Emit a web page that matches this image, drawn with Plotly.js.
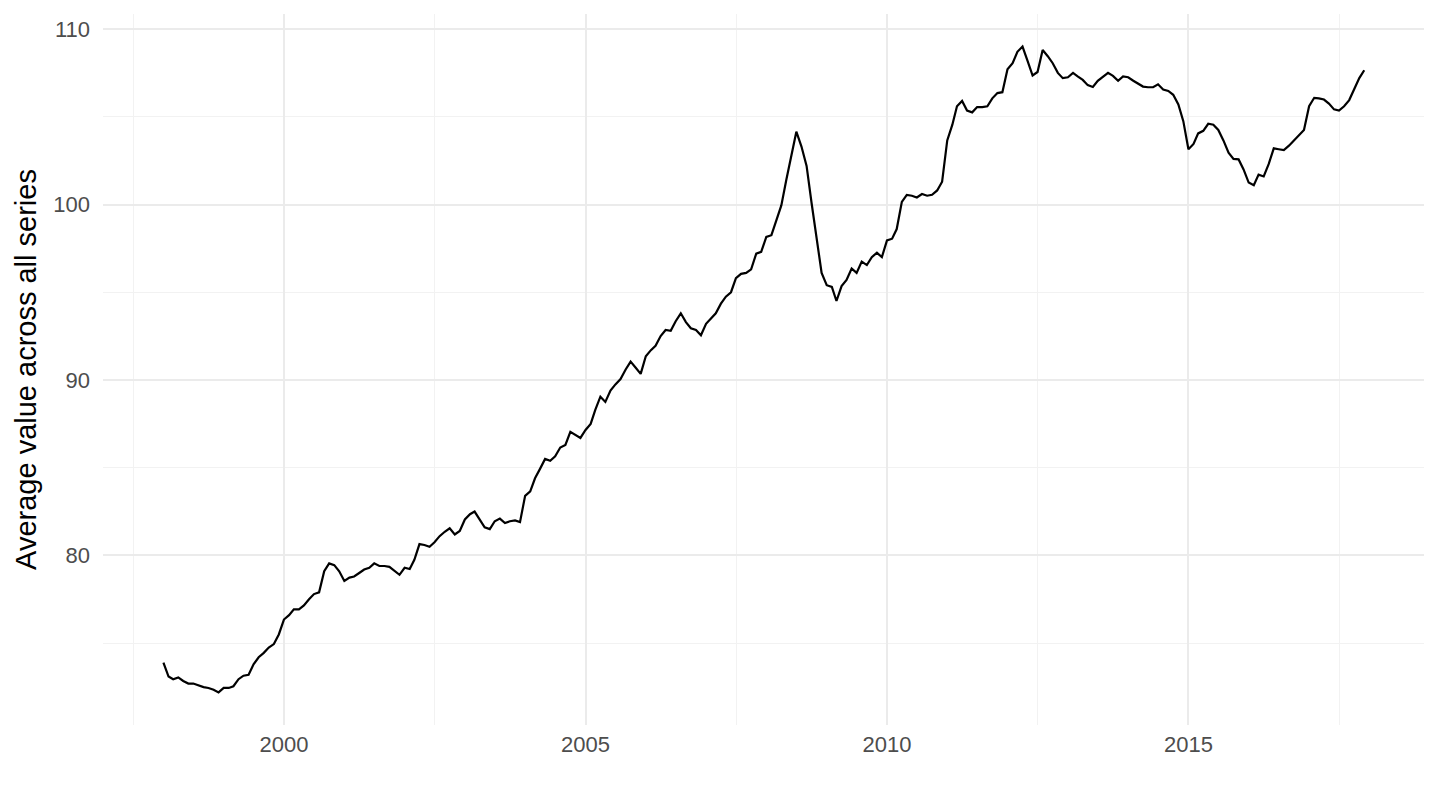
<!DOCTYPE html>
<html>
<head>
<meta charset="utf-8">
<script src="https://cdn.plot.ly/plotly-3.0.1.min.js"></script>
<style>
  html, body { margin: 0; padding: 0; background: #ffffff; }
  #chart { width: 1440px; height: 810px; }
</style>
</head>
<body>
<div id="chart"></div>
<script>
// Monthly series, 1998-01 .. 2017-12
const startYear = 1998;
const values = [
  // 1998
  73.9, 73.1, 72.95, 73.05, 72.85, 72.7, 72.7, 72.6, 72.5, 72.45, 72.35, 72.2,
  // 1999
  72.45, 72.45, 72.55, 72.95, 73.15, 73.2, 73.8, 74.2, 74.45, 74.75, 74.95, 75.5,
  // 2000
  76.35, 76.6, 76.93, 76.93, 77.15, 77.5, 77.8, 77.9, 79.1, 79.55, 79.45, 79.1,
  // 2001
  78.55, 78.74, 78.8, 79.0, 79.2, 79.3, 79.55, 79.4, 79.4, 79.35, 79.1, 78.9,
  // 2002
  79.3, 79.23, 79.75, 80.65, 80.6, 80.5, 80.75, 81.1, 81.35, 81.55, 81.2, 81.4,
  // 2003
  82.05, 82.35, 82.5, 82.0, 81.6, 81.5, 81.95, 82.1, 81.85, 81.95, 82.0, 81.9,
  // 2004
  83.4, 83.65, 84.4, 84.95, 85.5, 85.4, 85.65, 86.15, 86.3, 87.05, 86.85, 86.7,
  // 2005
  87.15, 87.5, 88.3, 89.05, 88.75, 89.4, 89.75, 90.05, 90.6, 91.05, 90.7, 90.35,
  // 2006
  91.35, 91.7, 91.95, 92.5, 92.85, 92.8, 93.35, 93.8, 93.3, 92.95, 92.85, 92.55,
  // 2007
  93.2, 93.5, 93.8, 94.35, 94.75, 95.0, 95.8, 96.05, 96.1, 96.3, 97.2, 97.3,
  // 2008
  98.15, 98.25, 99.1, 99.95, 101.4, 102.9, 104.15, 103.3, 102.2, 100.1, 98.0, 96.1,
  // 2009
  95.4, 95.3, 94.5, 95.35, 95.7, 96.35, 96.1, 96.75, 96.55, 97.0, 97.25, 97.0,
  // 2010
  97.95, 98.05, 98.6, 100.15, 100.55, 100.5, 100.4, 100.6, 100.5, 100.55, 100.8, 101.3,
  // 2011
  103.65, 104.55, 105.6, 105.9, 105.35, 105.25, 105.55, 105.55, 105.6, 106.05, 106.35, 106.4,
  // 2012
  107.7, 108.05, 108.7, 109.0, 108.2, 107.35, 107.55, 108.8, 108.45, 108.05, 107.5, 107.2,
  // 2013
  107.25, 107.5, 107.3, 107.1, 106.8, 106.7, 107.05, 107.25, 107.5, 107.33, 107.05, 107.3,
  // 2014
  107.25, 107.05, 106.9, 106.72, 106.68, 106.68, 106.85, 106.55, 106.47, 106.25, 105.7, 104.75,
  // 2015
  103.15, 103.45, 104.05, 104.2, 104.6, 104.55, 104.25, 103.65, 102.95, 102.6, 102.57, 102.0,
  // 2016
  101.25, 101.1, 101.7, 101.6, 102.3, 103.2, 103.15, 103.1, 103.35, 103.65, 103.9, 104.25,
  // 2017
  105.6, 106.08, 106.05, 105.98, 105.75, 105.42, 105.35, 105.6, 105.95, 106.6, 107.2, 107.65
];
const dates = values.map((v, i) => {
  const y = startYear + Math.floor(i / 12);
  const m = (i % 12) + 1;
  return y + '-' + String(m).padStart(2, '0') + '-01';
});

const xTickVals = ['2000-01-01', '2005-01-01', '2010-01-01', '2015-01-01'];
const xTickText = ['2000', '2005', '2010', '2015'];
const xMinorVals = ['1997-07-02', '2002-07-02', '2007-07-02', '2012-07-02', '2017-07-02'];
const yTickVals = [80, 90, 100, 110];
const yMinorVals = [75, 85, 95, 105];
const yTitle = 'Average value across all series';

const trace = {
  x: dates,
  y: values,
  type: 'scatter',
  mode: 'lines',
  line: { color: '#000000', width: 2.2 },
  hoverinfo: 'skip'
};

const layout = {
  width: 1440,
  height: 810,
  margin: { l: 103, r: 16, t: 14, b: 85 },
  paper_bgcolor: '#ffffff',
  plot_bgcolor: '#ffffff',
  showlegend: false,
  font: { family: 'Liberation Sans, Arial, sans-serif', color: '#4D4D4D', size: 22 },
  xaxis: {
    type: 'date',
    range: ['1996-12-31', '2018-11-28'],
    tickmode: 'array',
    tickvals: xTickVals,
    ticktext: xTickText,
    showgrid: true,
    gridcolor: '#EBEBEB',
    gridwidth: 2,
    zeroline: false,
    showline: false,
    ticks: '',
    ticklabelstandoff: 4,
    tickfont: { size: 22, color: '#4D4D4D' },
    minor: { tickmode: 'array', tickvals: xMinorVals, showgrid: true, gridcolor: '#F2F2F2', gridwidth: 1 }
  },
  yaxis: {
    range: [70.34, 110.855],
    tickmode: 'array',
    tickvals: yTickVals,
    showgrid: true,
    gridcolor: '#EBEBEB',
    gridwidth: 2,
    zeroline: false,
    showline: false,
    ticks: '',
    ticklabelstandoff: 12,
    tickfont: { size: 22, color: '#4D4D4D' },
    minor: { tickmode: 'array', tickvals: yMinorVals, showgrid: true, gridcolor: '#F2F2F2', gridwidth: 1 },
    title: { text: yTitle, font: { size: 29, color: '#000000' }, standoff: 8 }
  }
};

Plotly.newPlot('chart', [trace], layout, { displayModeBar: false, staticPlot: true });
</script>
</body>
</html>
